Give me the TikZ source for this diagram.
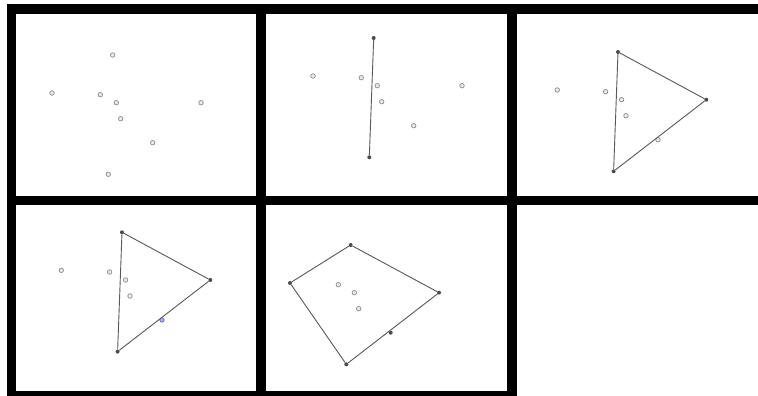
\documentclass[tikz,border=0pt]{standalone}
\begin{document}
\newcommand\ptrow[9]{%
  \node[#2] (#1p1) at (112.7,55) {};
  \node[#3] (#1p2) at (52,93) {};
  \node[#4] (#1p3) at (100.3,94.7) {};
  \node[#5] (#1p4) at (116.3,102.7) {};
  \node[#6] (#1p5) at (120.7,118.7) {};
  \node[#7] (#1p6) at (201,102.7) {};
  \node[#8] (#1p7) at (152.7,142.7) {};
  \node[#9] (#1p8) at (108.3,174.3) {};}
\begin{tikzpicture}[x=1pt,y=-1pt,
  pt/.style={circle,draw=black!45,fill=black!8,inner sep=0pt,minimum size=4.5pt,line width=0.7pt},
  hv/.style={circle,fill=black!70,inner sep=0pt,minimum size=4pt},
  bluept/.style={circle,draw=blue!50!black!60,fill=blue!35,inner sep=0pt,minimum size=4.5pt,line width=0.6pt},
  hull/.style={draw=black!65,line width=0.9pt},
  bar/.style={fill=black}]
\useasboundingbox (0,0) rectangle (758,396);
\fill[white] (0,0) rectangle (758,396);
% frame bars
\fill[bar] (7,4) rectangle (758,14);
\fill[bar] (7,4) rectangle (16,396);
\fill[bar] (7,196) rectangle (758,205);
\fill[bar] (256,4) rectangle (266,396);
\fill[bar] (507,4) rectangle (517,396);
\fill[bar] (7,391) rectangle (517,396);
% panel 1
\begin{scope}
  \ptrow{A}{pt}{pt}{pt}{pt}{pt}{pt}{pt}{pt}
\end{scope}
% panel 2
\begin{scope}[shift={(261,-17)}]
  \ptrow{B}{hv}{pt}{pt}{pt}{pt}{pt}{pt}{hv}
  \draw[hull] (Bp1) -- (Bp8);
\end{scope}
% panel 3
\begin{scope}[shift={(505.3,-3)}]
  \ptrow{C}{hv}{pt}{pt}{pt}{pt}{hv}{pt}{hv}
  \draw[hull] (Cp1) -- (Cp6) -- (Cp8) -- (Cp1);
\end{scope}
% panel 4
\begin{scope}[shift={(9.3,177.3)}]
  \ptrow{D}{hv}{pt}{pt}{pt}{pt}{hv}{bluept}{hv}
  \draw[hull] (Dp1) -- (Dp6) -- (Dp8) -- (Dp1);
\end{scope}
% panel 5
\begin{scope}[shift={(238,190)}]
  \ptrow{E}{hv}{hv}{pt}{pt}{pt}{hv}{hv}{hv}
  \draw[hull] (Ep1) -- (Ep6) -- (Ep8) -- (Ep2) -- (Ep1);
\end{scope}
\end{tikzpicture}
\end{document}
